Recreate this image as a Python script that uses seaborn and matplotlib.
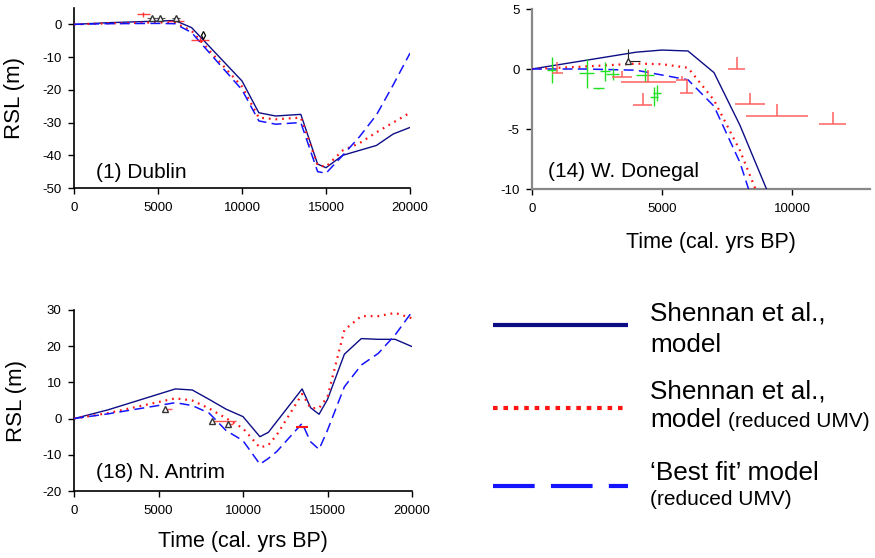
import numpy as np
import pandas as pd
import matplotlib
matplotlib.use("Agg")
import matplotlib.pyplot as plt
import seaborn as sns

sns.set_style("white")
plt.rcParams['font.family'] = ['Liberation Sans', 'DejaVu Sans']
plt.rcParams['axes.unicode_minus'] = False
plt.rcParams['text.color'] = 'black'
plt.rcParams['axes.labelcolor'] = 'black'
plt.rcParams['xtick.color'] = 'black'
plt.rcParams['ytick.color'] = 'black'

# ---------------- data ----------------
# (1) Dublin
dublin_t = [0, 2000, 5000, 6000, 7000, 10000, 11000, 12000, 13500, 14500, 15000, 16000, 17000, 18000, 19000, 20000]
dublin_shennan = [0, 0.5, 1.0, 1.2, -1.0, -17.3, -27.0, -28.0, -27.5, -42.7, -43.8, -40.0, -38.5, -37.0, -33.5, -31.5]
dublin_reduced = [0, 0.3, 0.6, 0.5, -2.0, -19.0, -28.5, -29.0, -28.5, -43.0, -43.5, -38.5, -36.3, -33.0, -30.0, -27.0]
dublin_bestfit = [0, 0.2, 0.3, 0.2, -2.5, -20.0, -29.5, -30.5, -30.0, -45.0, -45.5, -40.0, -34.3, -27.7, -18.5, -8.8]

# (14) W. Donegal
donegal_t = [0, 2000, 4000, 5000, 6000, 7000, 8000, 9000, 10000]
donegal_shennan = [0, 0.7, 1.4, 1.58, 1.5, -0.3, -4.7, -9.9, -15.0]
donegal_reduced = [0, 0.2, 0.45, 0.4, 0.1, -2.6, -6.8, -12.2, -17.5]
donegal_bestfit = [0, 0.0, -0.1, -0.5, -0.9, -3.1, -7.8, -14.5, -20.0]

# (18) N. Antrim
antrim_t = [0, 2000, 6000, 7000, 8000, 9000, 10000, 11000, 11500, 12000, 13500, 14000, 14500, 15000, 16000, 17000, 18000, 19000, 20000]
antrim_shennan = [0, 2.4, 8.2, 7.9, 5.3, 2.6, 0.55, -5.0, -3.8, -0.8, 8.2, 3.0, 1.2, 5.3, 17.8, 22.1, 21.9, 21.9, 19.9]
antrim_reduced = [0, 1.5, 5.6, 5.0, 2.8, 0.1, -2.7, -8.0, -7.3, -4.5, 6.8, 2.9, 2.9, 6.0, 24.5, 28.3, 28.3, 29.2, 27.7]
antrim_bestfit = [0, 1.3, 4.4, 3.6, 1.5, -3.3, -6.1, -12.6, -11.0, -9.1, -1.3, -6.4, -8.5, -3.2, 8.8, 14.8, 18.0, 23.1, 29.5]

# observations
dublin_red_x = [4130, 6070, 7500]
dublin_red_y = [3.1, 1.1, -4.7]
dublin_red_xerr = [400, 450, 520]
dublin_red_yerr = [0.8, 0.0, 0.8]
dublin_tri_x = [4620, 5120, 6070]
dublin_tri_y = [1.9, 1.9, 2.0]
dublin_tri_xerr = [300, 300, 250]
dublin_star_x = [7700]
dublin_star_y = [-3.4]

donegal_green_x = [760, 2100, 2550, 2800, 3100, 4350, 4700, 4800]
donegal_green_y = [-0.1, -0.35, -1.6, -0.2, -0.4, -0.5, -2.3, -2.0]
donegal_green_xerr = [200, 290, 200, 200, 250, 350, 150, 150]
donegal_green_yerr = [1.1, 1.2, 0.05, 0.8, 0.5, 0.6, 0.8, 0.7]
donegal_lim_x = [980, 3450, 4470, 4250, 5770, 5950, 7870, 8370, 9410, 11560]
donegal_lim_y = [-0.35, -0.7, -1.05, -3.0, -0.9, -2.0, 0.0, -2.9, -3.9, -4.6]
donegal_lim_xerr = [220, 380, 1055, 350, 230, 250, 330, 580, 1195, 510]
donegal_lim_up = [0.9, 0.5, 1.0, 1.0, 0.3, 1.1, 1.0, 0.9, 1.0, 1.0]
donegal_tri_x = [3700]
donegal_tri_y = [0.67]

antrim_tri_x = [5380, 8190, 9130]
antrim_tri_y = [2.6, -0.7, -1.6]
antrim_bar_lo = [5380, 8190, 9000]
antrim_bar_hi = [5780, 9600, 9400]
antrim_red_x = [13500]
antrim_red_y = [-2.2]
antrim_red_xerr = [350]

NAVY = "#0d0d85"
RED = "#ff1414"
BLUE = "#1414ff"
GREEN = "#22e022"
PINK = "#ff6060"

fig = plt.figure(figsize=(8.75, 5.58), dpi=100)

def model_lines(ax, t, s, r, b):
    df = pd.DataFrame({"t": t, "s": s, "r": r, "b": b})
    sns.lineplot(data=df, x="t", y="s", ax=ax, color=NAVY, lw=1.0, zorder=3)
    sns.lineplot(data=df, x="t", y="r", ax=ax, color=RED, lw=1.6, zorder=3)
    ax.lines[-1].set_dashes([0.8, 2.2])
    sns.lineplot(data=df, x="t", y="b", ax=ax, color=BLUE, lw=1.1, zorder=3)
    ax.lines[-1].set_dashes([6.5, 3.5])

def style_axes(ax, spine_color="black"):
    for s in ["top", "right"]:
        ax.spines[s].set_visible(False)
    for s in ["left", "bottom"]:
        ax.spines[s].set_color(spine_color)
        ax.spines[s].set_linewidth(1.2)
    ax.tick_params(direction="out", length=4, width=1.0, colors="black",
                   labelsize=9.5, left=True, bottom=True)
    ax.tick_params(axis="x", pad=6)
    ax.tick_params(axis="y", pad=5)
    ax.set_xlabel("")
    ax.set_ylabel("")

# ---- Dublin ----
ax1 = fig.add_axes([74/875, 1-188/558, 336/875, 180/558])
model_lines(ax1, dublin_t, dublin_shennan, dublin_reduced, dublin_bestfit)
ax1.errorbar(dublin_red_x, dublin_red_y, xerr=dublin_red_xerr, yerr=dublin_red_yerr,
             fmt="none", ecolor=RED, elinewidth=1.0, alpha=0.8, zorder=4)
ax1.errorbar(dublin_tri_x, dublin_tri_y, xerr=dublin_tri_xerr, fmt="^", ms=4,
             mfc="white", mec="#333333", ecolor="#555555", elinewidth=0.8, zorder=5)
ax1.plot(dublin_star_x, dublin_star_y, marker="d", ms=4, mfc="white", mec="black", mew=0.9,
         ls="none", zorder=5)
ax1.set_xlim(0, 20000)
ax1.set_ylim(-50, 5)
ax1.set_xticks([0, 5000, 10000, 15000, 20000])
ax1.set_yticks([0, -10, -20, -30, -40, -50])
style_axes(ax1)
ax1.set_ylabel("RSL (m)", fontsize=16)
ax1.yaxis.set_label_coords(-0.145, 0.5)
ax1.text(0.065, 0.056, "(1) Dublin", transform=ax1.transAxes, fontsize=15, va="baseline")

# ---- Donegal ----
ax2 = fig.add_axes([532/875, 1-189/558, 338/875, 180/558])
model_lines(ax2, donegal_t, donegal_shennan, donegal_reduced, donegal_bestfit)
ax2.errorbar(donegal_green_x, donegal_green_y, xerr=donegal_green_xerr, yerr=donegal_green_yerr,
             fmt="none", ecolor=GREEN, elinewidth=1.0, zorder=4)
ax2.errorbar(donegal_lim_x, donegal_lim_y, xerr=donegal_lim_xerr,
             yerr=[[0]*len(donegal_lim_up), donegal_lim_up],
             fmt="none", ecolor=PINK, elinewidth=1.1, zorder=4)
ax2.errorbar(donegal_tri_x, donegal_tri_y, xerr=[[0], [450]], yerr=[[0.1], [1.0]],
             fmt="^", ms=4, mfc="white", mec="#333333", ecolor="#222222", elinewidth=0.8, zorder=5)
ax2.set_xlim(0, 13000)
ax2.set_ylim(-10, 5)
ax2.set_xticks([0, 5000, 10000])
ax2.set_yticks([5, 0, -5, -10])
style_axes(ax2, spine_color="#888888")
ax2.spines["left"].set_linewidth(1.6)
ax2.spines["bottom"].set_linewidth(1.6)
ax2.set_xlabel("Time (cal. yrs BP)", fontsize=15.5)
ax2.xaxis.set_label_coords(0.53, -0.24)
ax2.text(0.048, 0.068, "(14) W. Donegal", transform=ax2.transAxes, fontsize=15, va="baseline")

# ---- Antrim ----
ax3 = fig.add_axes([74/875, 1-491/558, 338/875, 181/558])
model_lines(ax3, antrim_t, antrim_shennan, antrim_reduced, antrim_bestfit)
ax3.errorbar(antrim_tri_x, antrim_tri_y,
             xerr=[np.array(antrim_tri_x) - np.array(antrim_bar_lo), np.array(antrim_bar_hi) - np.array(antrim_tri_x)],
             fmt="^", ms=4, mfc="white", mec="#333333", ecolor="#ff5050", elinewidth=1.0, zorder=5)
ax3.errorbar(antrim_red_x, antrim_red_y, xerr=antrim_red_xerr, fmt="none", ecolor=RED,
             elinewidth=1.5, zorder=5)
ax3.set_xlim(0, 20000)
ax3.set_ylim(-20, 30)
ax3.set_xticks([0, 5000, 10000, 15000, 20000])
ax3.set_yticks([30, 20, 10, 0, -10, -20])
style_axes(ax3)
ax3.set_ylabel("RSL (m)", fontsize=16)
ax3.yaxis.set_label_coords(-0.14, 0.5)
ax3.set_xlabel("Time (cal. yrs BP)", fontsize=15.5)
ax3.xaxis.set_label_coords(0.5, -0.22)
ax3.text(0.065, 0.072, "(18) N. Antrim", transform=ax3.transAxes, fontsize=15, va="baseline")

# ---- Legend (pixel-coordinate overlay) ----
lax = fig.add_axes([0, 0, 1, 1], facecolor="none")
lax.set_xlim(0, 875)
lax.set_ylim(558, 0)
lax.axis("off")
legend_labels = ["Shennan et al.,", "model", "Shennan et al.,", "model", "(reduced UMV)", "\u2018Best fit\u2019 model", "(reduced UMV)"]
l1, = lax.plot([493, 628], [325, 325], color=NAVY, lw=3.0, solid_capstyle="butt")
l2, = lax.plot([493, 628], [408, 408], color=RED, lw=3.0, dash_capstyle="butt")
l2.set_dashes([1.1, 1.4])
l3, = lax.plot([493, 628], [486, 486], color=BLUE, lw=3.0, dash_capstyle="butt")
l3.set_dashes([10, 3.9])
lax.text(650, 321, legend_labels[0], fontsize=18.8, va="baseline")
lax.text(650, 352, legend_labels[1], fontsize=18.8, va="baseline")
lax.text(650, 398, legend_labels[2], fontsize=18.8, va="baseline")
lax.text(650, 427, legend_labels[3], fontsize=18.8, va="baseline")
lax.text(728, 427, legend_labels[4], fontsize=15, va="baseline")
lax.text(650, 480, legend_labels[5], fontsize=18.8, va="baseline")
lax.text(650, 505, legend_labels[6], fontsize=15, va="baseline")

fig.savefig("out.png", dpi=100)
